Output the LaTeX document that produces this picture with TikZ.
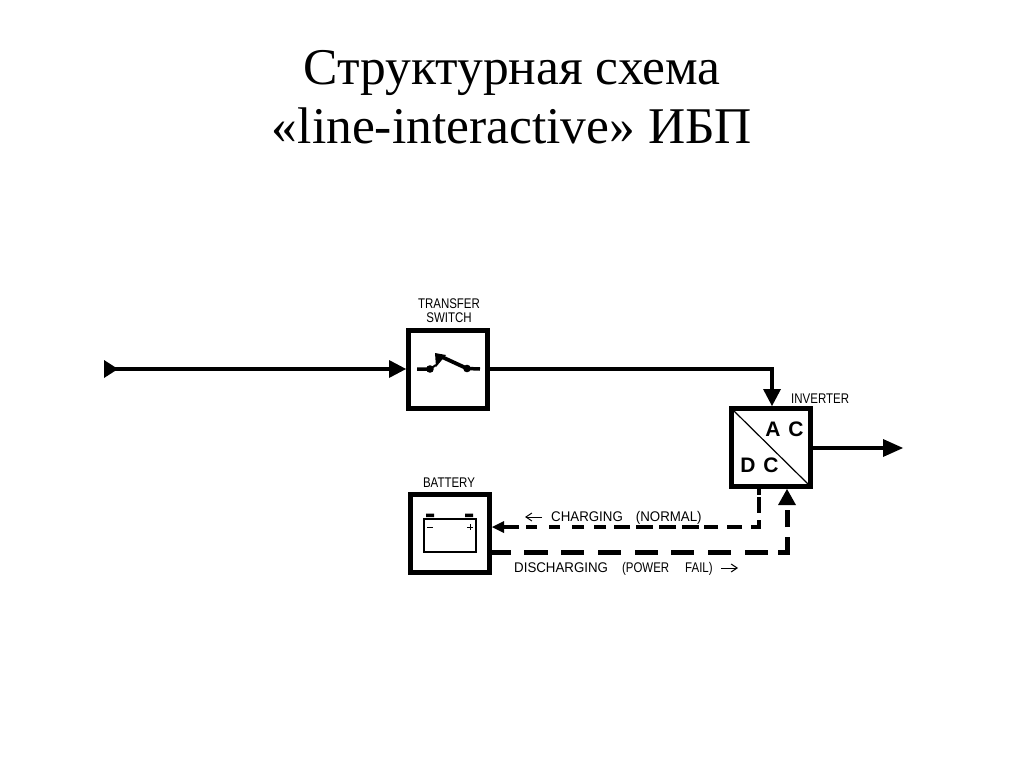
\documentclass[tikz,border=0pt]{standalone}
\usepackage{fontspec}
\setmainfont{Liberation Serif}
\newfontfamily\lab[FakeStretch=0.82]{Liberation Sans}
\newfontfamily\labw[FakeStretch=0.95]{Liberation Sans}
\usetikzlibrary{arrows.meta}
\tikzset{
  block/.style={draw=black,line width=5pt,fill=white,minimum width=79pt,minimum height=78pt,inner sep=0pt,outer sep=2.5pt},
  title/.style={font=\fontsize{51.5}{59}\selectfont,align=center},
  tag/.style={font=\lab\fontsize{14}{14}\selectfont,align=center,inner sep=0pt},
  flowtag/.style={font=\labw\fontsize{14}{14}\selectfont,inner sep=0pt,anchor=west},
  big/.style={font=\bfseries\sffamily\fontspec{Liberation Sans}\bfseries\fontsize{21}{21}\selectfont,inner sep=0pt},
  main/.style={line width=4.5pt,-{Triangle[length=17pt,width=18pt,line width=0pt]}},
  chg/.style={line width=3.3pt,dash pattern=on 6pt off 2pt on 16pt off 7pt on 15pt off 9pt on 15pt off 9pt on 14pt off 5pt on 17pt off 6pt on 17pt off 6pt on 17pt off 6pt on 16pt off 8pt on 12pt off 10pt on 12pt off 12pt on 11pt off 12pt on 11pt off 7pt on 20pt},
  dis/.style={line width=5pt,dash pattern=on 19pt off 13pt on 24pt off 13pt on 23pt off 14pt on 23pt off 14pt on 23pt off 13pt on 23pt off 14pt on 23pt off 14pt on 23pt off 10pt on 24pt off 10pt on 20pt},
  thinarrow/.style={line width=1pt,-{Straight Barb[length=6pt,width=8pt]}},
}
\begin{document}
\begin{tikzpicture}[x=1pt,y=-1pt]
\useasboundingbox (0,0) rectangle (1024,767);
\node[title] (ttl) at (512,97) {Структурная схема\\«line-interactive» ИБП};
\node[block] (sw) at (448,369.5) {};
\node[block] (inv) at (771,447.5) {};
\node[block] (bat) at (450,533.5) {};
\node[tag] (swl) at (449,310.5) {TRANSFER\\SWITCH};
\node[tag,anchor=west] (invl) at (791,398.5) {INVERTER};
\node[tag] (batl) at (449,483) {BATTERY};
\node[big] (ac) at (784.5,429.5) {A\hspace{8pt}C};
\node[big] (dc) at (759.5,465) {D\hspace{8pt}C};
\coordinate (in) at (104,369);
\draw[main] (in) -- (sw.west |- in);
\fill (in) ++(0,-9) -- ++(14,9) -- ++(-14,9) -- cycle;
\coordinate (el) at (772,369);
\draw[main] (sw.east |- el) -- (el) -- (inv.north -| el);
\coordinate (out) at (903,448);
\draw[line width=4.5pt,-{Triangle[length=20pt,width=18pt,line width=0pt]}] (inv.east |- out) -- (out);
% diagonal
\draw[line width=1.2pt] ([xshift=5pt,yshift=-5pt]inv.north west) -- ([xshift=-5pt,yshift=5pt]inv.south east);
% switch symbol
\coordinate (sa) at (417,369);
\coordinate (sb) at (480,369);
\coordinate (sc) at (430,369);
\coordinate (sd) at (467,368.5);
\coordinate (sp) at (435,353);
\draw[line width=3.5pt] (sa) -- (sc) (sd) -- (sb);
\fill (sc) circle (3.8pt) (sd) circle (3.8pt);
\draw[line width=3.8pt] (sd) -- (441,356.5);
\fill (sp) -- (446,355) -- (436,367) -- cycle;
\draw[line width=2pt] (sc) -- (436,365);
% battery symbol
\node[draw,line width=2.6pt,minimum width=52pt,minimum height=33pt,inner sep=0pt] (cell) at (450,535.5) {};
\fill (426,513.5) rectangle (434,517) (465,513.5) rectangle (473,517);
\draw[line width=.8pt] (427,527) -- (433,527) (467,527) -- (473,527) (470,524) -- (470,530);
% charging
\coordinate (ck) at (759,527);
\coordinate (cs) at (515,527);
\draw[chg] (inv.south -| ck) -- (ck) -- (cs);
\draw[line width=4pt] (cs) -- (500,527);
\fill (bat.east |- ck) -- ++(12,-6) -- ++(0,12) -- cycle;
% discharging
\coordinate (dk) at (787,552);
\coordinate (de) at (787,510);
\draw[dis] (bat.east |- dk) -- (dk) -- (de);
\fill (inv.south -| dk) -- ++(9,16) -- ++(-18,0) -- cycle;
% labels
\node[flowtag] (cl) at (551,518) {CHARGING\hspace{13pt}(NORMAL)};
\coordinate (ca1) at (542,517); \coordinate (ca2) at (525,517);
\draw[thinarrow] (ca1) -- (ca2);
\node[flowtag] (dl) at (514,569) {DISCHARGING\hspace{14pt}{\lab (POWER\hspace{16pt}FAIL)}};
\coordinate (da1) at (721,568); \coordinate (da2) at (738,568);
\draw[thinarrow] (da1) -- (da2);
\end{tikzpicture}
\end{document}
